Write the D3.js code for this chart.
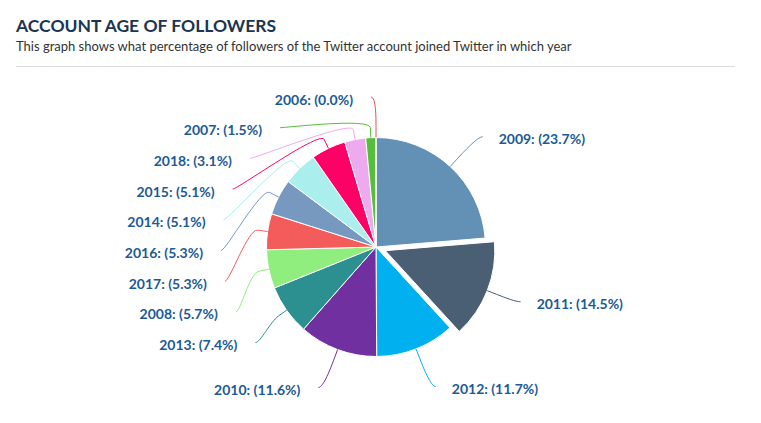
<!DOCTYPE html>
<html>
<head>
<meta charset="utf-8">
<script src="https://cdn.jsdelivr.net/npm/d3@7"></script>
<style>
  html, body { margin: 0; padding: 0; background: #fff; }
  svg { display: block; font-family: Lato, "Open Sans", sans-serif; }
</style>
</head>
<body>
<svg id="chart" width="761" height="423"></svg>
<script>
// ---- data ----
const titleText = "ACCOUNT AGE OF FOLLOWERS";
const subtitleText = "This graph shows what percentage of followers of the Twitter account joined Twitter in which year";
const years  = ["2009", "2011", "2012", "2010", "2013", "2008", "2017", "2016", "2014", "2015", "2018", "2007", "2006"];
const shares = [23.7, 14.5, 11.7, 11.6, 7.4, 5.7, 5.3, 5.3, 5.1, 5.1, 3.1, 1.5, 0.0];
const colors = ["#6391b6", "#4a5f73", "#00b0ef", "#7030a0", "#2b908f", "#90ee7e", "#f45b5b",
                "#7798bf", "#aaeeee", "#ff0066", "#eeaaee", "#55bf3b", "#df5353"];
const slicedYears = ["2011"];

// ---- layout ----
const svg = d3.select("#chart");
const cx = 376, cy = 247, R = 109.5;
const labelR = 150;      // radius of label ring
const sliceOffset = 10;
const connectorOffset = 10;
const labelSpacing = 30.7;

svg.append("text").attr("x", 16).attr("y", 32)
  .attr("font-size", 17.5).attr("font-weight", 700).attr("fill", "#1c3550")
  .text(titleText);
svg.append("text").attr("x", 16).attr("y", 51)
  .attr("font-size", 13).attr("fill", "#333")
  .text(subtitleText);
svg.append("line").attr("x1", 16).attr("x2", 735).attr("y1", 66.5).attr("y2", 66.5)
  .attr("stroke", "#dcdcdc").attr("stroke-width", 1);

const data = years.map((y, i) => ({ year: y, value: shares[i], color: colors[i] }));
const pie = d3.pie().sort(null).value(d => d.value);
const arcs = pie(data);
const arc = d3.arc().innerRadius(0).outerRadius(R);

arcs.forEach(a => {
  a.mid = (a.startAngle + a.endAngle) / 2;
  a.sliced = slicedYears.includes(a.data.year);
  a.dx = a.sliced ? sliceOffset * Math.sin(a.mid) : 0;
  a.dy = a.sliced ? -sliceOffset * Math.cos(a.mid) : 0;
  a.left = a.mid >= Math.PI;
  a.ny = cy - labelR * Math.cos(a.mid);
});

const g = svg.append("g");
g.selectAll("path.slice").data(arcs).enter().append("path")
  .attr("class", "slice")
  .attr("transform", d => `translate(${cx + d.dx},${cy + d.dy})`)
  .attr("d", arc)
  .attr("fill", d => d.data.color)
  .attr("stroke", "#fff").attr("stroke-width", 1).attr("stroke-linejoin", "round");

// distribute labels on each side
[true, false].forEach(side => {
  const pts = arcs.filter(a => a.left === side).sort((a, b) => a.ny - b.ny);
  let prev = -Infinity;
  pts.forEach(p => { p.ly = Math.max(p.ny, prev + labelSpacing); prev = p.ly; });
});

arcs.forEach(a => {
  const dyl = a.ly - cy;
  const hx = Math.sqrt(Math.max(0, labelR * labelR - dyl * dyl));
  const s = a.left ? -1 : 1;
  a.ax = cx + s * hx;
  a.tx = a.ax + s * (a.left ? 23 : 21);
  const ox = cx + a.dx, oy = cy + a.dy;
  a.touch = [ox + R * Math.sin(a.mid), oy - R * Math.cos(a.mid)];
  a.brk = [ox + (R + connectorOffset) * Math.sin(a.mid), oy - (R + connectorOffset) * Math.cos(a.mid)];
  a.start = [a.ax + s * 5, a.ly];
});

g.selectAll("path.conn").data(arcs).enter().append("path")
  .attr("class", "conn")
  .attr("fill", "none")
  .attr("stroke", d => d.data.color)
  .attr("stroke-width", 1)
  .attr("d", d => {
    const p = d3.path();
    p.moveTo(d.start[0], d.start[1]);
    p.bezierCurveTo(d.ax, d.ly,
      2 * d.brk[0] - d.touch[0], 2 * d.brk[1] - d.touch[1],
      d.brk[0], d.brk[1]);
    p.lineTo(d.touch[0], d.touch[1]);
    return p.toString();
  });

g.selectAll("text.lbl").data(arcs).enter().append("text")
  .attr("class", "lbl")
  .attr("x", d => d.tx)
  .attr("y", d => d.ly + 7.5)
  .attr("text-anchor", d => d.left ? "end" : "start")
  .attr("font-size", 14).attr("font-weight", 700).attr("fill", "#1c5a96")
  .text(d => `${d.data.year}: (${d.data.value.toFixed(1)}%)`);
</script>
</body>
</html>
